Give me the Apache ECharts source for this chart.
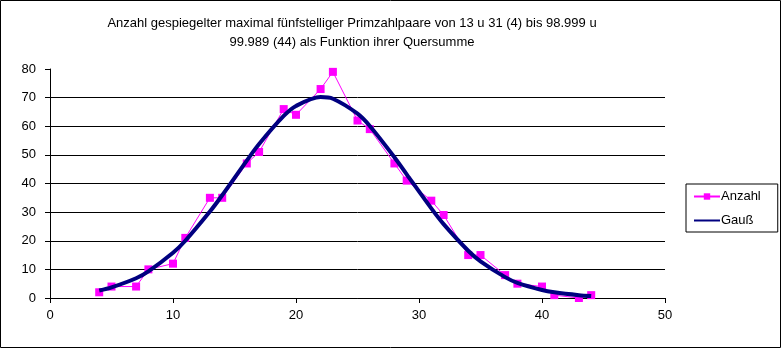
<!DOCTYPE html>
<html>
<head>
<meta charset="utf-8">
<script src="https://cdn.jsdelivr.net/npm/echarts@6/dist/echarts.min.js"></script>
<style>
  html, body { margin: 0; padding: 0; background: #fff; }
  #chart { width: 782px; height: 349px; }
</style>
</head>
<body>
<div id="chart"></div>
<script>
// Quersumme (digit sum) of the prime pair
const quersumme = [4, 5, 7, 8, 10, 11, 13, 14, 16, 17, 19, 20, 22, 23, 25, 26, 28, 29, 31, 32, 34, 35, 37, 38, 40, 41, 43, 44];
// Number of mirrored prime pairs per digit sum
const anzahl = [2, 4, 4, 10, 12, 21, 35, 35, 47, 51, 66, 64, 73, 79, 62, 59, 47, 41, 34, 29, 15, 15, 8, 5, 4, 1, 0, 1];
// Fitted Gaussian curve at the same digit sums
const gauss = [2.6, 3.7, 6.9, 9.3, 15.8, 20.0, 30.2, 35.9, 48.0, 53.8, 63.6, 67.1, 70.2, 69.6, 64.4, 60.1, 49.2, 43.2, 31.3, 25.8, 16.5, 12.8, 7.3, 5.3, 2.8, 2.0, 1.0, 0.7];

const titleLines = [
  'Anzahl gespiegelter maximal fünfstelliger Primzahlpaare von 13 u 31 (4) bis 98.999 u',
  '99.989 (44) als Funktion ihrer Quersumme'
];
const seriesNames = ['Anzahl', 'Gauß'];

const font = '"Liberation Sans", Arial, sans-serif';
const pairs = (xs, ys) => xs.map((x, i) => [x, ys[i]]);

const chart = echarts.init(document.getElementById('chart'), null, { renderer: 'canvas' });
chart.setOption({
  backgroundColor: '#fff',
  animation: false,
  title: {
    text: titleLines.join('\n'),
    left: 347,
    textAlign: 'center',
    top: 9,
    textStyle: { fontFamily: font, fontSize: 13, fontWeight: 'normal', color: '#000', lineHeight: 19 }
  },
  graphic: [{
    type: 'rect',
    shape: { x: 0.5, y: 0.5, width: 780, height: 347 },
    style: { fill: 'none', stroke: '#000', lineWidth: 1 },
    silent: true
  }],
  legend: {
    orient: 'vertical',
    left: 686,
    top: 184,
    data: [
      { name: seriesNames[0] },
      { name: seriesNames[1], itemStyle: { color: 'rgba(0,0,0,0)', borderWidth: 0 } }
    ],
    itemWidth: 26,
    itemHeight: 8,
    itemGap: 11,
    padding: [6, 17, 5, 7],
    borderColor: '#000',
    borderWidth: 1,
    textStyle: { fontFamily: font, fontSize: 13, color: '#000', padding: [0, 0, 0, -4] }
  },
  grid: { left: 50, right: 117, top: 69, bottom: 51, containLabel: false },
  xAxis: {
    type: 'value',
    min: 0, max: 50, interval: 10,
    axisLine: { show: true, lineStyle: { color: '#000', width: 1 } },
    axisTick: { show: true, inside: false, length: 5, lineStyle: { color: '#000' } },
    axisLabel: { fontFamily: font, fontSize: 13, color: '#000', margin: 11 },
    splitLine: { show: false }
  },
  yAxis: {
    type: 'value',
    min: 0, max: 80, interval: 10,
    axisLine: { show: true, lineStyle: { color: '#000', width: 1 } },
    axisTick: { show: true, inside: false, length: 5, lineStyle: { color: '#000' } },
    axisLabel: { fontFamily: font, fontSize: 13, color: '#000', margin: 14 },
    splitLine: { show: true, showMaxLine: false, lineStyle: { color: '#000', width: 1 } }
  },
  series: [
    {
      name: seriesNames[0],
      type: 'line',
      data: pairs(quersumme, anzahl),
      symbol: 'rect',
      symbolSize: 8,
      itemStyle: { color: '#FF00FF' },
      lineStyle: { color: '#FF00FF', width: 1 },
      z: 2
    },
    {
      name: seriesNames[1],
      type: 'line',
      data: pairs(quersumme, gauss),
      smooth: 0.3,
      showSymbol: false,
      symbol: 'none',
      itemStyle: { color: '#000080' },
      lineStyle: { color: '#000080', width: 4 },
      z: 3
    }
  ]
});
</script>
</body>
</html>
